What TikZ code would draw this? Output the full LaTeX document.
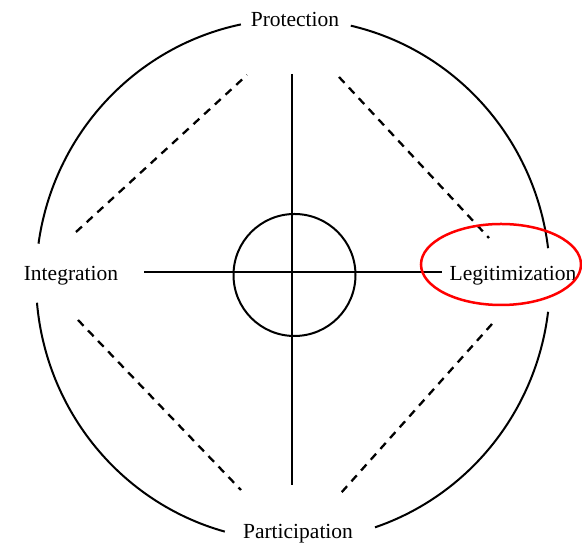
\documentclass[tikz,border=0pt]{standalone}
\usepackage{fontspec}
\setmainfont{Liberation Serif}
\begin{document}
\begin{tikzpicture}[x=1pt,y=1pt,
  lbl/.style={inner sep=0pt,anchor=base,font=\fontsize{21.5}{24}\selectfont},
  solidline/.style={line width=2pt,black},
  dashline/.style={line width=2.3pt,black,dash pattern=on 8pt off 6.5pt},
  redring/.style={line width=2.5pt,red}]
\useasboundingbox (0,0) rectangle (582,545);
% labels
\node[lbl] (prot) at (295,518) {Protection};
\node[lbl] (integ) at (71,264) {Integration};
\node[lbl] (legit) at (513,264) {Legitimization};
\node[lbl] (part) at (298,6) {Participation};
% centre
\coordinate (C) at (293,265);
\coordinate (c0) at (294.5,270);
% outer arcs
\draw[solidline] (C) ++(172:257 and 261) arc[start angle=172,end angle=101.7,x radius=257,y radius=261];
\draw[solidline] (C) ++(77:257 and 261) arc[start angle=77,end angle=7,x radius=257,y radius=261];
\draw[solidline] (C) ++(185:257 and 261) arc[start angle=185,end angle=254.6,x radius=257,y radius=261];
\draw[solidline] (C) ++(288.6:257 and 261) arc[start angle=288.6,end angle=353,x radius=257,y radius=261];
% inner circle
\node[draw,solidline,circle,minimum size=122pt,inner sep=0pt] (inner) at (c0) {};
% axes
\coordinate (vt) at (291.5,471);
\coordinate (vb) at (291.5,60);
\coordinate (hl) at (144,273);
\coordinate (hr) at (442,273);
\draw[solidline] (vt) -- (vb);
\draw[solidline] (hl) -- (hr);
% dashed diagonals
\coordinate (tl1) at (76,313);  \coordinate (tl2) at (247,470);
\coordinate (tr1) at (339,468); \coordinate (tr2) at (489,307);
\coordinate (bl1) at (78,225);  \coordinate (bl2) at (241,55);
\coordinate (br1) at (492,221); \coordinate (br2) at (341,52);
\draw[dashline] (tl1) -- (tl2);
\draw[dashline] (tr1) -- (tr2);
\draw[dashline] (bl1) -- (bl2);
\draw[dashline] (br1) -- (br2);
% red highlight
\draw[redring] (501,280.5) ellipse[x radius=80,y radius=40.5];
\end{tikzpicture}
\end{document}
